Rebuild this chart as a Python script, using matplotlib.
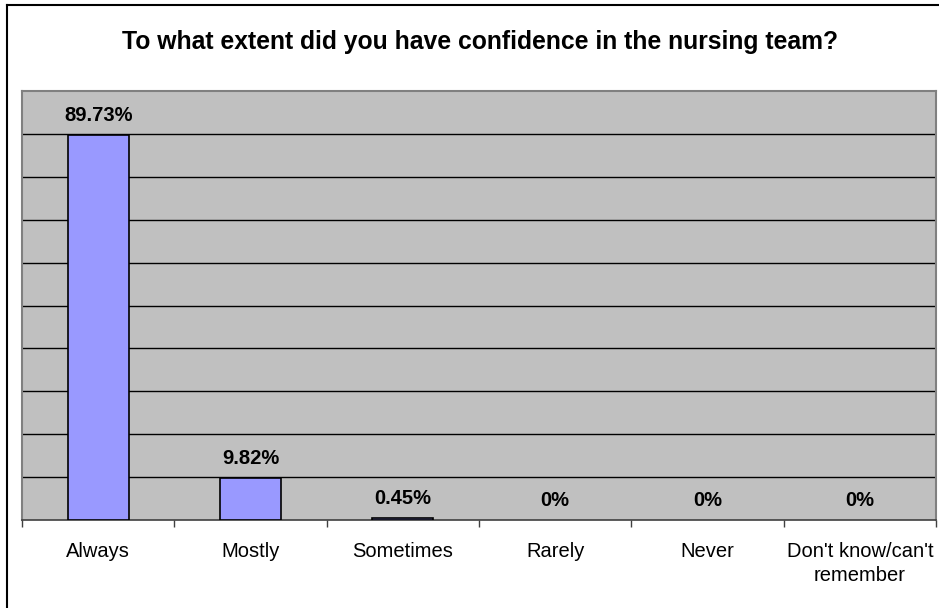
import numpy as np
import matplotlib
matplotlib.use('Agg')
import matplotlib.pyplot as plt
from matplotlib.lines import Line2D

plt.rcParams['font.family'] = ['Liberation Sans', 'DejaVu Sans']

categories = ['Always', 'Mostly', 'Sometimes', 'Rarely', 'Never', "Don't know/can't\nremember"]
values = [89.73, 9.82, 0.45, 0, 0, 0]
labels = ['89.73%', '9.82%', '0.45%', '0%', '0%', '0%']
title = 'To what extent did you have confidence in the nursing team?'

fig = plt.figure(figsize=(9.39, 6.08), dpi=100, facecolor='w')
ax = fig.add_axes([22/939, 88/608, 914/939, 429/608])
ax.set_facecolor('#c0c0c0')

x = np.arange(len(categories))
edges = ['black' if v > 0 else 'none' for v in values]
ax.bar(x, values, width=0.4, color='#9999ff', edgecolor=edges, linewidth=1.2, zorder=3)

for xi, v, lab in zip(x, values, labels):
    ax.annotate(lab, (xi, v), xytext=(0, 14), textcoords='offset points',
                ha='center', va='center', fontsize=14.5, fontweight='bold', zorder=4)

ax.set_xlim(-0.5, len(categories) - 0.5)
ax.set_ylim(0, 100)
ax.set_yticks(np.arange(10, 100, 10))
ax.yaxis.grid(True, color='black', linewidth=1)
ax.set_axisbelow(True)
ax.tick_params(axis='y', left=False, labelleft=False)

ax.set_xticks(x)
ax.set_xticklabels(categories, fontsize=14.5, linespacing=1.35)
ax.tick_params(axis='x', length=0, pad=16)
ax.set_xticks(np.arange(-0.5, len(categories), 1), minor=True)
ax.tick_params(axis='x', which='minor', length=5, color='#404040', width=1)

for side in ['top', 'left', 'right']:
    ax.spines[side].set_color('#808080')
    ax.spines[side].set_linewidth(1.5)
ax.spines['bottom'].set_color('#404040')
ax.spines['bottom'].set_linewidth(1.2)

fig.text(480/939, 1 - 42/608, title, ha='center', va='center', fontsize=17.8, fontweight='bold')

# chart border (only left and top visible in the frame)
fig.add_artist(Line2D([7/939, 7/939], [0, 1 - 5/608], color='black', linewidth=1.5, transform=fig.transFigure))
fig.add_artist(Line2D([7/939, 938/939], [1 - 5/608, 1 - 5/608], color='black', linewidth=1.5, transform=fig.transFigure))

fig.savefig('out.png', dpi=100)
